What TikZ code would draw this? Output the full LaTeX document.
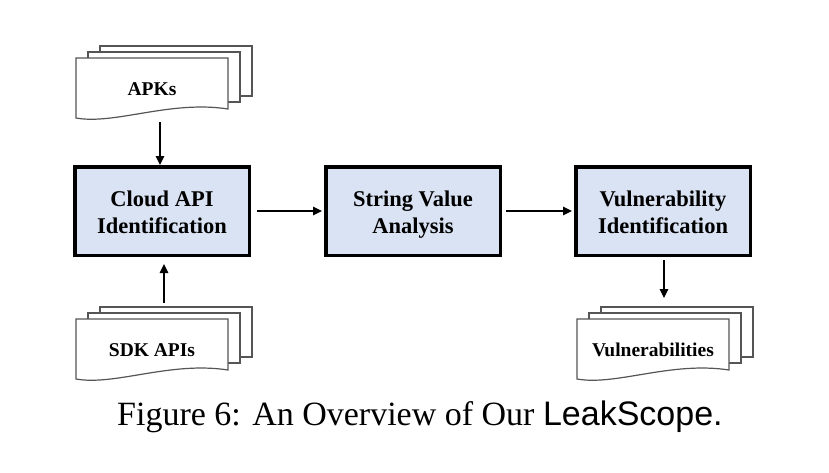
\documentclass[tikz,border=0pt]{standalone}
\usepackage{fontspec}
\setmainfont{Liberation Serif}
\newfontfamily\capsans{Liberation Sans}
\usetikzlibrary{arrows.meta}
\definecolor{boxfill}{HTML}{DAE3F3}
\definecolor{sheetline}{HTML}{555555}
\newcommand{\topstrut}{\rule{0pt}{22.4pt}}
\newcommand{\botstrut}{\rule[-4.6pt]{0pt}{4.6pt}}
\tikzset{
  stagebox/.style={draw=black, line width=3.5pt, fill=boxfill, minimum width=174.5pt, minimum height=88.5pt, align=center, inner sep=0pt, font=\fontsize{22.5}{27}\selectfont\bfseries},
  sheet/.style={draw=sheetline, line width=1.2pt, fill=white, line join=miter},
  sheetlabel/.style={inner sep=0pt, font=\fontsize{19.5}{23}\selectfont\bfseries},
  arr/.style={draw=black, line width=1.2pt, -{Triangle[length=9pt,width=8.5pt]}},
}
\newcommand{\docstack}[4]{%
  \begin{scope}[shift={(#2,#3)}]
    \draw[sheet] (24,-12) rectangle (176,38);
    \draw[sheet] (12,-6) rectangle (164,44);
    \draw[sheet] (0,0) -- (152,0) -- (152,51) .. controls (94,42) and (39,67) .. (0,60) -- cycle;
    \node[sheetlabel] (#1) at (76,33) {\strut #4};
  \end{scope}}
\begin{document}
\begin{tikzpicture}[x=1pt, y=-1pt]
  \useasboundingbox (0,0) rectangle (829,472);
  % stages
  \node[stagebox] (cloud) at (162,211) {\topstrut Cloud API\\Identification\botstrut};
  \node[stagebox] (string) at (413,211) {\topstrut String Value\\Analysis\botstrut};
  \node[stagebox] (vuln) at (663,211) {\topstrut Vulnerability\\Identification\botstrut};
  % document stacks
  \docstack{apks}{76}{58}{APKs}
  \docstack{sdk}{76}{319}{SDK APIs}
  \docstack{vulns}{577}{319}{Vulnerabilities}
  % connector ends
  \coordinate (apks-out) at (160,122);
  \coordinate (sdk-out) at (164,303);
  \coordinate (vulns-in) at (664,298);
  % connectors
  \draw[arr] (apks-out) -- (apks-out |- cloud.north);
  \draw[arr] (sdk-out) -- ([yshift=-7pt]sdk-out |- cloud.south);
  \draw[arr] ([xshift=6pt]cloud.east) -- ([xshift=-2pt]string.west);
  \draw[arr] ([xshift=4pt]string.east) -- ([xshift=-2pt]vuln.west);
  \draw[arr] ([yshift=-3pt]vulns-in |- vuln.south) -- (vulns-in);
  % caption
  \node[anchor=base west, inner sep=0pt] (caption) at (117,425) {\fontsize{34}{41}\selectfont Figure 6: An Overview of Our {\capsans LeakScope.}};
\end{tikzpicture}
\end{document}
